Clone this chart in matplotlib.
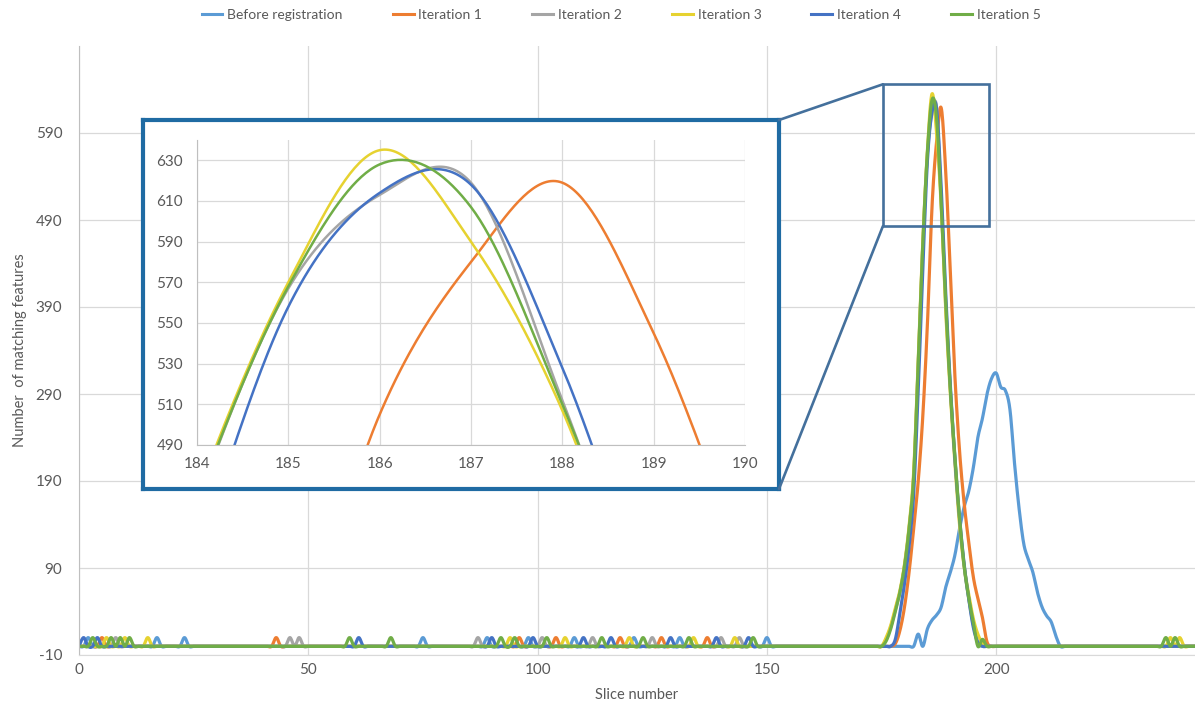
import numpy as np
import matplotlib
matplotlib.use("Agg")
import matplotlib.pyplot as plt
from matplotlib.patches import Rectangle, ConnectionPatch
from matplotlib.lines import Line2D

plt.rcParams['font.family'] = ['Lato', 'DejaVu Sans']
plt.rcParams['axes.unicode_minus'] = False

# ---------------- data ----------------
series_names = ["Before registration", "Iteration 1", "Iteration 2",
                "Iteration 3", "Iteration 4", "Iteration 5"]
series_colors = ["#5B9BD5", "#ED7D31", "#A5A5A5", "#E6D230", "#4472C4", "#70AD47"]

slice_first, slice_last = 0, 244
noise_height = 10

before_peak_x = [182, 183, 184, 185, 186, 187, 188, 189, 190, 191, 192, 193, 194, 195, 196, 197,
                 198, 199, 200, 201, 202, 203, 204, 205, 206, 207, 208, 209, 210, 211, 212, 213, 214]
before_peak_y = [0, 14, 0, 20, 30, 36, 45, 68, 85, 105, 135, 160, 178, 205, 240, 262,
                 290, 308, 314, 298, 294, 272, 210, 158, 118, 100, 85, 62, 45, 35, 28, 12, 0]
before_noise = [2, 17, 23, 75, 89, 98, 108, 121, 131, 150]

iter1_peak_x = [177, 178, 179, 180, 181, 182, 183, 184, 185, 186, 187, 188, 189, 190, 191, 192,
                193, 194, 195, 196, 197, 198, 199]
iter1_peak_y = [0, 3, 18, 45, 85, 135, 190, 265, 370, 505, 580, 619, 545, 430, 310, 225,
                165, 120, 80, 55, 33, 5, 0]
iter1_noise = [5, 43, 96, 104, 118, 127, 137]

iter2_peak_x = [175, 176, 177, 178, 179, 180, 181, 182, 183, 184, 185, 186, 187, 188, 189, 190,
                191, 192, 193, 194, 195, 196, 197]
iter2_peak_y = [0, 8, 22, 42, 62, 92, 135, 195, 325, 462, 567, 613, 619, 512, 390, 295,
                215, 145, 92, 55, 25, 5, 0]
iter2_noise = [8, 46, 48, 87, 101, 112, 125, 140, 144]

iter3_peak_x = [175, 176, 177, 178, 179, 180, 181, 182, 183, 184, 185, 186, 187, 188, 189, 190,
                191, 192, 193, 194, 195, 196, 197, 198]
iter3_peak_y = [0, 10, 24, 44, 64, 94, 138, 200, 330, 465, 570, 635, 590, 507, 385, 290,
                210, 140, 92, 60, 32, 14, 4, 0]
iter3_noise = [6, 10, 15, 94, 106, 120, 134, 143, 238, 240]

iter4_peak_x = [177, 178, 179, 180, 181, 182, 183, 184, 185, 186, 187, 188, 189, 190, 191, 192,
                193, 194, 195, 196, 197]
iter4_peak_y = [0, 8, 38, 72, 115, 175, 295, 435, 558, 614, 618, 528, 405, 300, 215, 148,
                95, 55, 22, 4, 0]
iter4_noise = [1, 4, 61, 90, 99, 110, 116, 129, 139, 146]

iter5_peak_x = [175, 176, 177, 178, 179, 180, 181, 182, 183, 184, 185, 186, 187, 188, 189, 190,
                191, 192, 193, 194, 195, 196, 197, 198]
iter5_peak_y = [0, 6, 20, 40, 62, 92, 135, 195, 328, 463, 568, 628, 607, 510, 395, 295,
                218, 148, 93, 56, 28, 0, 8, 0]
iter5_noise = [3, 7, 9, 11, 59, 68, 92, 95, 102, 114, 123, 133, 147, 237, 239]

main_yticks = [-10, 90, 190, 290, 390, 490, 590]
main_xticks = [0, 50, 100, 150, 200]
inset_xticks = [184, 185, 186, 187, 188, 189, 190]
inset_yticks = [490, 510, 530, 550, 570, 590, 610, 630]
zoom_box_x = (175.3, 198.4)
zoom_box_y = (483, 646)

# ---------------- build series ----------------
slices = np.arange(slice_first, slice_last + 1)


def build(peak_x, peak_y, noise_x):
    y = np.zeros(len(slices))
    y[np.isin(slices, noise_x)] = noise_height
    for px, py in zip(peak_x, peak_y):
        y[slices == px] = py
    return y


all_y = [build(before_peak_x, before_peak_y, before_noise),
         build(iter1_peak_x, iter1_peak_y, iter1_noise),
         build(iter2_peak_x, iter2_peak_y, iter2_noise),
         build(iter3_peak_x, iter3_peak_y, iter3_noise),
         build(iter4_peak_x, iter4_peak_y, iter4_noise),
         build(iter5_peak_x, iter5_peak_y, iter5_noise)]


def smooth(x, y, n=12):
    """Excel-like smoothed line (Catmull-Rom Bezier through the points)."""
    x = np.asarray(x, float)
    y = np.asarray(y, float)
    xp = np.concatenate([[x[0]], x, [x[-1]]])
    yp = np.concatenate([[y[0]], y, [y[-1]]])
    t = np.linspace(0, 1, n, endpoint=False)[:, None]

    def bez(p):
        p0, p1, p2, p3 = p[:-3], p[1:-2], p[2:-1], p[3:]
        c1 = p1 + (p2 - p0) / 6.0
        c2 = p2 - (p3 - p1) / 6.0
        b = ((1 - t) ** 3) * p1 + 3 * ((1 - t) ** 2) * t * c1 + 3 * (1 - t) * t ** 2 * c2 + t ** 3 * p2
        return np.concatenate([b.T.ravel(), [p[-2]]])

    return bez(xp), bez(yp)


# ---------------- figure ----------------
W, H = 1195, 706
fig = plt.figure(figsize=(W / 100, H / 100), dpi=100)
fig.patch.set_facecolor("white")

text_col = "#595959"
grid_col = "#D9D9D9"

ax = fig.add_axes([79 / W, 1 - 655 / H, (W - 79) / W, (655 - 46) / H])
for name, col, yv in zip(series_names, series_colors, all_y):
    sx, sy = smooth(slices, yv)
    ax.plot(sx, sy, color=col, lw=2.3, solid_capstyle="round", solid_joinstyle="round")

ax.set_xlim(0, (W - 79) / 4.586)
ax.set_ylim(-10, 690)
ax.set_xticks(main_xticks)
ax.set_yticks(main_yticks)
ax.grid(True, color=grid_col, lw=0.9)
ax.set_axisbelow(True)
ax.tick_params(length=0, labelsize=11, colors=text_col)
ax.tick_params(axis="y", pad=12)
ax.tick_params(axis="x", pad=6)
for s in ["top", "right"]:
    ax.spines[s].set_visible(False)
ax.spines["left"].set_color("#BFBFBF")
ax.spines["bottom"].set_color(grid_col)
ax.set_xlabel("Slice number", fontsize=10.5, color=text_col, labelpad=8)
ax.set_ylabel("Number  of matching features", fontsize=10.5, color=text_col, labelpad=6)

# zoom rectangle
box_col = "#44709C"
ax.add_patch(Rectangle((zoom_box_x[0], zoom_box_y[0]), zoom_box_x[1] - zoom_box_x[0],
                       zoom_box_y[1] - zoom_box_y[0], fill=False, ec=box_col, lw=1.9, zorder=5))

# inset frame
fx0, fy0, fx1, fy1 = 143, 120, 779, 489
for xy_data, xy_fig in [((zoom_box_x[0], zoom_box_y[1]), (fx1 / W, 1 - fy0 / H)),
                        ((zoom_box_x[0], zoom_box_y[0]), (fx1 / W, 1 - fy1 / H))]:
    con = ConnectionPatch(xyA=xy_data, coordsA=ax.transData, xyB=xy_fig,
                          coordsB=fig.transFigure, color=box_col, lw=1.9)
    fig.add_artist(con)

frame = fig.add_axes([fx0 / W, 1 - fy1 / H, (fx1 - fx0) / W, (fy1 - fy0) / H])
frame.set_xticks([])
frame.set_yticks([])
frame.set_facecolor("white")
for s in frame.spines.values():
    s.set_color("#1F6BA3")
    s.set_linewidth(3.0)

ins = fig.add_axes([197 / W, 1 - 445 / H, (745 - 197) / W, (445 - 140) / H])
for name, col, yv in zip(series_names, series_colors, all_y):
    sx, sy = smooth(slices, yv, n=40)
    ins.plot(sx, sy, color=col, lw=1.8)
ins.set_xlim(184, 190)
ins.set_ylim(490, 640)
ins.set_xticks(inset_xticks)
ins.set_yticks(inset_yticks)
ins.grid(True, color=grid_col, lw=0.9)
ins.set_axisbelow(True)
ins.tick_params(length=0, labelsize=11, colors=text_col)
ins.tick_params(axis="y", pad=10)
ins.tick_params(axis="x", pad=9)
for s in ["top", "right"]:
    ins.spines[s].set_visible(False)
ins.spines["left"].set_color("#BFBFBF")
ins.spines["bottom"].set_color("#BFBFBF")

# legend
handles = [Line2D([0], [0], color=c, lw=2.2) for c in series_colors]
leg = fig.legend(handles, series_names, loc="center", bbox_to_anchor=(621 / W, 1 - 15 / H),
                 ncol=6, frameon=False, fontsize=10, handlelength=1.5, handletextpad=0.35,
                 columnspacing=3.6)
for t in leg.get_texts():
    t.set_color(text_col)

fig.savefig("out.png", dpi=100, facecolor="white")
